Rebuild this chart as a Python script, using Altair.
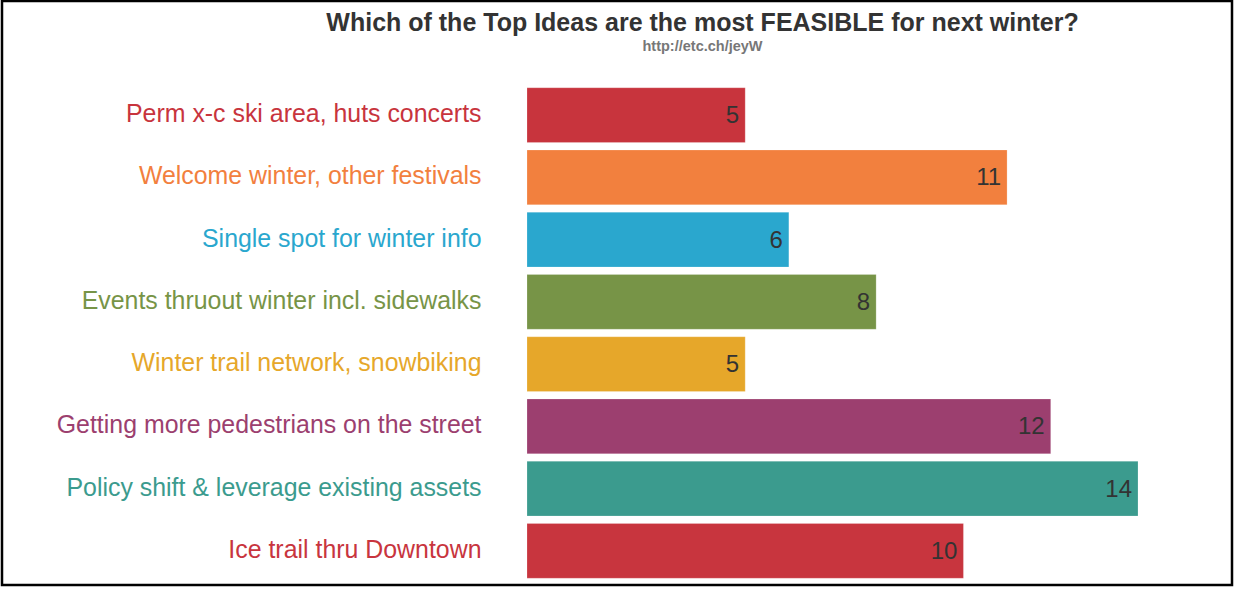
import altair as alt
import pandas as pd

ideas = [
    "Perm x-c ski area, huts concerts",
    "Welcome winter, other festivals",
    "Single spot for winter info",
    "Events thruout winter incl. sidewalks",
    "Winter trail network, snowbiking",
    "Getting more pedestrians on the street",
    "Policy shift & leverage existing assets",
    "Ice trail thru Downtown",
]
votes = [5, 11, 6, 8, 5, 12, 14, 10]
colors = ["#C8343D", "#F2803E", "#2AA7CE", "#779447", "#E6A72A", "#9C3F6F", "#3B9B8E", "#C8353E"]

df = pd.DataFrame({"idea": ideas, "votes": votes})

y_enc = alt.Y(
    "idea:N",
    sort=ideas,
    scale=alt.Scale(paddingInner=0.12, paddingOuter=0.06),
    axis=alt.Axis(
        title=None,
        domain=False,
        ticks=False,
        labelPadding=46,
        labelFontSize=24.9,
        labelFont="Liberation Sans",
        labelLimit=0,
        labelColor=alt.ExprRef("scale('color', datum.value)"),
    ),
)

bars = alt.Chart(df).mark_bar(stroke="white", strokeWidth=0.5, strokeOpacity=0.4).encode(
    x=alt.X("votes:Q", scale=alt.Scale(domain=[0, 14], nice=False), axis=None),
    y=y_enc,
    color=alt.Color("idea:N", scale=alt.Scale(domain=ideas, range=colors), legend=None),
)

labels = alt.Chart(df).mark_text(
    align="right", baseline="middle", dx=-6, dy=1, fontSize=24, font="Liberation Sans", color="#333333"
).encode(
    x="votes:Q",
    y=alt.Y("idea:N", sort=ideas),
    text="votes:Q",
)

frame = alt.Chart(pd.DataFrame({"a": [0]})).mark_rect(
    fill=None, stroke="black", strokeWidth=2.5
).encode(
    x=alt.value(-525), x2=alt.value(705), y=alt.value(-83), y2=alt.value(501)
)

chart = alt.layer(bars, labels, frame).properties(
    width=611,
    height=498,
    autosize=alt.AutoSizeParams(type="none"),
    padding={"left": 527, "top": 84, "right": 96, "bottom": 7},
    title=alt.TitleParams(
        text="Which of the Top Ideas are the most FEASIBLE for next winter?",
        subtitle="http://etc.ch/jeyW",
        font="Liberation Sans",
        fontSize=25,
        fontWeight="bold",
        color="#333333",
        subtitleFont="Liberation Sans",
        subtitleFontSize=14.5,
        subtitleFontWeight="bold",
        subtitleColor="#777777",
        subtitlePadding=4,
        anchor="middle",
        frame="group",
        dx=-130,
        offset=-54,
    ),
).configure_view(stroke=None)

chart.save("out.html", embed_options={"renderer": "svg", "actions": False})
